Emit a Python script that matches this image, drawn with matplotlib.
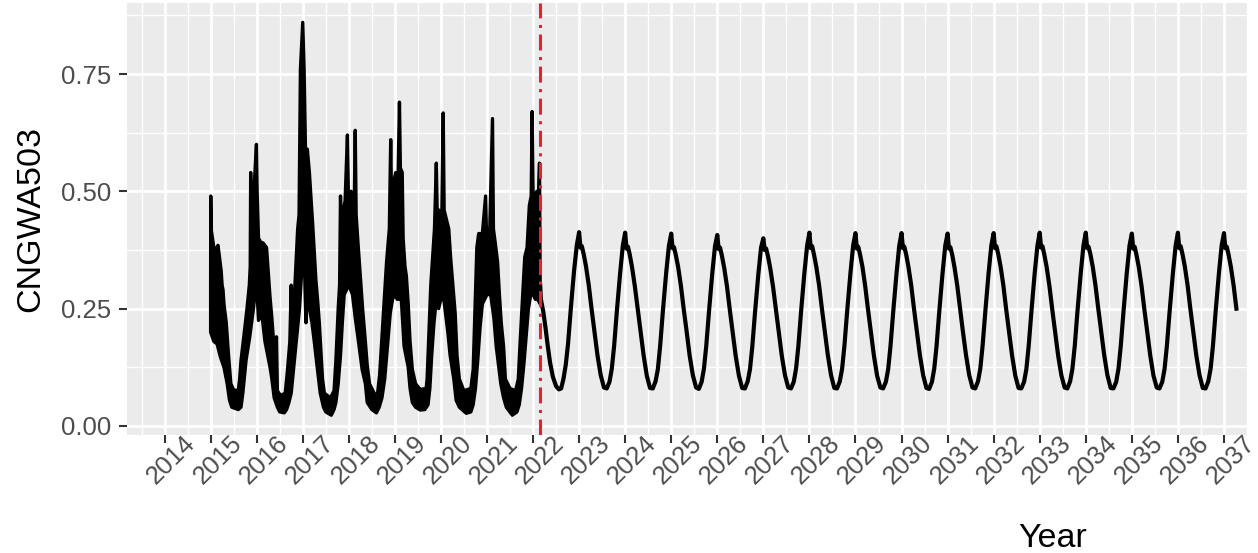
import numpy as np
import matplotlib.pyplot as plt
from matplotlib.transforms import ScaledTranslation

plt.rcParams['font.family'] = ['Liberation Sans', 'DejaVu Sans']
plt.rcParams['lines.scale_dashes'] = False

# observed series, drawn as its black band: upper and lower edge (decimal year, value)
hist_upper = [
    (2015.000, 0.30), (2015.003, 0.49), (2015.012, 0.42), (2015.070, 0.38), (2015.140, 0.38), (2015.160, 0.385),
    (2015.180, 0.37), (2015.230, 0.33), (2015.250, 0.30), (2015.270, 0.29), (2015.290, 0.26), (2015.340, 0.22),
    (2015.390, 0.15), (2015.440, 0.09), (2015.500, 0.077), (2015.600, 0.075), (2015.630, 0.10), (2015.660, 0.14),
    (2015.720, 0.19), (2015.790, 0.25), (2015.840, 0.30), (2015.860, 0.34), (2015.870, 0.54), (2015.885, 0.40),
    (2015.940, 0.50), (2015.995, 0.60), (2016.010, 0.50), (2016.040, 0.40), (2016.100, 0.39), (2016.140, 0.39),
    (2016.215, 0.38), (2016.290, 0.275), (2016.330, 0.23), (2016.360, 0.19), (2016.400, 0.12), (2016.430, 0.19),
    (2016.450, 0.075), (2016.520, 0.065), (2016.620, 0.07), (2016.670, 0.12), (2016.720, 0.18), (2016.750, 0.30),
    (2016.765, 0.22), (2016.820, 0.28), (2016.860, 0.36), (2016.890, 0.42), (2016.920, 0.45), (2016.950, 0.76),
    (2017.000, 0.86), (2017.030, 0.76), (2017.060, 0.59), (2017.100, 0.59), (2017.145, 0.54), (2017.216, 0.43),
    (2017.287, 0.31), (2017.330, 0.26), (2017.360, 0.22), (2017.430, 0.10), (2017.470, 0.07), (2017.600, 0.06),
    (2017.680, 0.075), (2017.720, 0.14), (2017.770, 0.25), (2017.800, 0.30), (2017.820, 0.49), (2017.840, 0.40),
    (2017.880, 0.46), (2017.920, 0.48), (2017.970, 0.62), (2017.990, 0.50), (2018.050, 0.50), (2018.120, 0.48),
    (2018.140, 0.63), (2018.160, 0.45), (2018.200, 0.39), (2018.250, 0.32), (2018.300, 0.25), (2018.360, 0.18),
    (2018.400, 0.13), (2018.450, 0.09), (2018.550, 0.07), (2018.620, 0.065), (2018.670, 0.11), (2018.720, 0.19),
    (2018.770, 0.27), (2018.820, 0.35), (2018.880, 0.42), (2018.910, 0.61), (2018.930, 0.47), (2018.970, 0.52),
    (2019.020, 0.54), (2019.060, 0.48), (2019.100, 0.69), (2019.120, 0.55), (2019.160, 0.54), (2019.180, 0.40),
    (2019.220, 0.34), (2019.250, 0.32), (2019.290, 0.26), (2019.330, 0.18), (2019.380, 0.12), (2019.450, 0.09),
    (2019.550, 0.078), (2019.680, 0.08), (2019.700, 0.10), (2019.740, 0.20), (2019.780, 0.30), (2019.820, 0.36),
    (2019.860, 0.42), (2019.900, 0.56), (2019.920, 0.45), (2019.960, 0.46), (2020.020, 0.45), (2020.050, 0.667),
    (2020.070, 0.46), (2020.120, 0.44), (2020.170, 0.42), (2020.210, 0.36), (2020.260, 0.30), (2020.310, 0.24),
    (2020.350, 0.15), (2020.400, 0.10), (2020.500, 0.075), (2020.650, 0.08), (2020.700, 0.12), (2020.740, 0.25),
    (2020.780, 0.38), (2020.820, 0.41), (2020.900, 0.41), (2020.970, 0.49), (2020.990, 0.41), (2021.060, 0.42),
    (2021.120, 0.655), (2021.140, 0.42), (2021.180, 0.39), (2021.230, 0.35), (2021.270, 0.28), (2021.310, 0.22),
    (2021.360, 0.17), (2021.400, 0.10), (2021.500, 0.08), (2021.620, 0.075), (2021.680, 0.10), (2021.720, 0.18),
    (2021.770, 0.27), (2021.820, 0.36), (2021.870, 0.38), (2021.920, 0.47), (2021.960, 0.49), (2021.980, 0.67),
    (2022.000, 0.50), (2022.040, 0.48), (2022.080, 0.50), (2022.120, 0.50), (2022.140, 0.56), (2022.155, 0.30),
]
hist_lower = [
    (2015.000, 0.20), (2015.070, 0.18), (2015.140, 0.175), (2015.210, 0.148), (2015.290, 0.125), (2015.360, 0.09),
    (2015.410, 0.055), (2015.460, 0.04), (2015.600, 0.035), (2015.660, 0.04), (2015.700, 0.07), (2015.770, 0.14),
    (2015.850, 0.19), (2015.930, 0.25), (2015.960, 0.28), (2016.000, 0.30), (2016.040, 0.225), (2016.110, 0.24),
    (2016.180, 0.18), (2016.290, 0.125), (2016.330, 0.10), (2016.380, 0.06), (2016.450, 0.04), (2016.500, 0.03),
    (2016.600, 0.028), (2016.650, 0.035), (2016.700, 0.05), (2016.750, 0.07), (2016.820, 0.14), (2016.870, 0.19),
    (2016.930, 0.25), (2016.960, 0.30), (2017.000, 0.36), (2017.040, 0.34), (2017.050, 0.29), (2017.070, 0.22),
    (2017.090, 0.28), (2017.145, 0.25), (2017.200, 0.22), (2017.250, 0.18), (2017.320, 0.12), (2017.380, 0.07),
    (2017.450, 0.04), (2017.500, 0.03), (2017.620, 0.023), (2017.680, 0.035), (2017.720, 0.05), (2017.770, 0.09),
    (2017.820, 0.15), (2017.860, 0.22), (2017.900, 0.28), (2017.950, 0.29), (2018.000, 0.30), (2018.080, 0.28),
    (2018.140, 0.23), (2018.210, 0.18), (2018.290, 0.12), (2018.360, 0.09), (2018.400, 0.05), (2018.500, 0.035),
    (2018.600, 0.028), (2018.660, 0.04), (2018.720, 0.06), (2018.780, 0.10), (2018.840, 0.17), (2018.900, 0.24),
    (2018.950, 0.27), (2019.000, 0.28), (2019.050, 0.27), (2019.100, 0.27), (2019.140, 0.27), (2019.200, 0.17),
    (2019.290, 0.125), (2019.330, 0.08), (2019.380, 0.05), (2019.450, 0.04), (2019.550, 0.034), (2019.650, 0.035),
    (2019.720, 0.045), (2019.760, 0.08), (2019.800, 0.15), (2019.850, 0.22), (2019.900, 0.27), (2019.950, 0.25),
    (2020.000, 0.27), (2020.050, 0.28), (2020.100, 0.24), (2020.150, 0.20), (2020.200, 0.15), (2020.280, 0.10),
    (2020.330, 0.055), (2020.400, 0.04), (2020.550, 0.027), (2020.650, 0.03), (2020.700, 0.045), (2020.750, 0.08),
    (2020.800, 0.14), (2020.850, 0.21), (2020.900, 0.26), (2021.000, 0.28), (2021.080, 0.28), (2021.150, 0.23),
    (2021.200, 0.17), (2021.250, 0.13), (2021.300, 0.09), (2021.360, 0.06), (2021.420, 0.04), (2021.550, 0.023),
    (2021.650, 0.03), (2021.700, 0.045), (2021.750, 0.08), (2021.800, 0.13), (2021.850, 0.19), (2021.900, 0.25),
    (2021.950, 0.28), (2022.000, 0.28), (2022.050, 0.27), (2022.100, 0.27), (2022.155, 0.26),
]

# forecast: first partial season after the cut
fc_2022_t = [2022.155, 2022.17, 2022.22, 2022.27, 2022.32, 2022.37, 2022.43, 2022.50, 2022.56,
             2022.61, 2022.66, 2022.71, 2022.76, 2022.82, 2022.89, 2022.95]
fc_2022_v = [0.30, 0.27, 0.245, 0.21, 0.17, 0.135, 0.105, 0.085, 0.078,
             0.08, 0.10, 0.13, 0.175, 0.25, 0.33, 0.385]

# forecast: one row per year, values at these fractions of the year
fc_phase = [0.00, 0.03, 0.06, 0.10, 0.15, 0.21, 0.27, 0.33, 0.40, 0.47, 0.54, 0.60, 0.66, 0.71, 0.76, 0.82, 0.89, 0.95]
fc_years = [2023, 2024, 2025, 2026, 2027, 2028, 2029, 2030, 2031, 2032, 2033, 2034, 2035, 2036, 2037]
fc_rows = [
    [0.413, 0.380, 0.383, 0.366, 0.340, 0.300, 0.250, 0.203, 0.150, 0.108, 0.082, 0.080, 0.094, 0.122, 0.170, 0.245, 0.325, 0.385],
    [0.412, 0.378, 0.382, 0.365, 0.338, 0.298, 0.251, 0.204, 0.151, 0.107, 0.081, 0.080, 0.095, 0.121, 0.171, 0.246, 0.326, 0.384],
    [0.410, 0.379, 0.381, 0.364, 0.339, 0.299, 0.250, 0.205, 0.150, 0.108, 0.082, 0.079, 0.094, 0.122, 0.170, 0.244, 0.324, 0.383],
    [0.407, 0.377, 0.380, 0.363, 0.337, 0.298, 0.249, 0.203, 0.149, 0.107, 0.081, 0.080, 0.095, 0.121, 0.169, 0.243, 0.322, 0.380],
    [0.400, 0.375, 0.378, 0.362, 0.336, 0.297, 0.250, 0.202, 0.150, 0.108, 0.082, 0.080, 0.094, 0.122, 0.170, 0.245, 0.325, 0.384],
    [0.412, 0.379, 0.383, 0.365, 0.339, 0.300, 0.251, 0.204, 0.151, 0.108, 0.081, 0.080, 0.095, 0.122, 0.171, 0.245, 0.325, 0.385],
    [0.411, 0.378, 0.382, 0.365, 0.340, 0.299, 0.250, 0.203, 0.150, 0.107, 0.082, 0.080, 0.094, 0.121, 0.170, 0.244, 0.324, 0.384],
    [0.411, 0.379, 0.382, 0.366, 0.339, 0.300, 0.250, 0.204, 0.150, 0.108, 0.081, 0.079, 0.094, 0.122, 0.170, 0.245, 0.325, 0.385],
    [0.410, 0.378, 0.381, 0.365, 0.338, 0.299, 0.251, 0.203, 0.151, 0.108, 0.082, 0.080, 0.095, 0.122, 0.171, 0.245, 0.326, 0.385],
    [0.411, 0.379, 0.383, 0.366, 0.340, 0.300, 0.250, 0.204, 0.150, 0.107, 0.081, 0.080, 0.094, 0.121, 0.170, 0.244, 0.325, 0.384],
    [0.412, 0.380, 0.383, 0.365, 0.339, 0.299, 0.250, 0.203, 0.150, 0.108, 0.082, 0.080, 0.095, 0.122, 0.170, 0.245, 0.325, 0.385],
    [0.412, 0.379, 0.382, 0.366, 0.340, 0.300, 0.251, 0.204, 0.151, 0.108, 0.081, 0.080, 0.094, 0.122, 0.171, 0.245, 0.326, 0.385],
    [0.410, 0.378, 0.382, 0.365, 0.339, 0.299, 0.250, 0.203, 0.150, 0.107, 0.082, 0.080, 0.094, 0.121, 0.170, 0.244, 0.324, 0.384],
    [0.412, 0.379, 0.383, 0.366, 0.340, 0.300, 0.250, 0.204, 0.150, 0.108, 0.081, 0.080, 0.095, 0.122, 0.170, 0.245, 0.325, 0.385],
    [0.411, 0.379, 0.382, 0.365, 0.339, 0.299, 0.250],
]

cut_year = 2022.15
year_ticks = list(range(2014, 2038))
y_ticks = [0.00, 0.25, 0.50, 0.75]
y_tick_labels = ['0.00', '0.25', '0.50', '0.75']

W, H = 1258, 553
fig = plt.figure(figsize=(W / 100, H / 100), dpi=100)
ax = fig.add_axes([127 / W, 1 - 435 / H, 1120 / W, 432 / H])
ax.set_facecolor('#EBEBEB')
for s in ax.spines.values():
    s.set_visible(False)

ax.set_xlim(2013.185, 2037.2)
ax.set_ylim(-0.0192, 0.9013)

ax.set_xticks(year_ticks)
ax.set_xticks([y + 0.5 for y in range(2013, 2038)], minor=True)
ax.set_yticks(y_ticks)
ax.set_yticks([0.125, 0.375, 0.625, 0.875], minor=True)
ax.grid(which='major', color='white', lw=2.0)
ax.grid(which='minor', color='white', lw=1.0)
ax.set_axisbelow(True)

ax.tick_params(which='minor', length=0)
ax.tick_params(which='major', length=5.8, width=1.5, color='#333333',
               labelcolor='#4D4D4D', labelsize=18.5)
ax.tick_params(axis='y', pad=5.5)
ax.tick_params(axis='x', pad=0)
ax.set_yticklabels(y_tick_labels)
ax.set_xticklabels([str(y) for y in year_ticks], rotation=45, ha='center', va='top')
shift = ScaledTranslation(7 / 100, 12 / 100, fig.dpi_scale_trans)
for lab in ax.get_xticklabels():
    lab.set_transform(lab.get_transform() + shift)

# observed band
up_t, up_v = zip(*hist_upper)
lo_t, lo_v = zip(*hist_lower)
poly_t = np.r_[up_t, lo_t[::-1]]
poly_v = np.r_[up_v, lo_v[::-1]]
ax.fill(poly_t, poly_v, facecolor='black', edgecolor='black', lw=2.4, joinstyle='round')

# forecast line
fc_t = list(fc_2022_t)
fc_v = list(fc_2022_v)
for yr, row in zip(fc_years, fc_rows):
    fc_t += [yr + p for p in fc_phase[:len(row)]]
    fc_v += row
ax.plot(fc_t, fc_v, color='black', lw=3.0, solid_joinstyle='round')

ax.axvline(cut_year, color='#E3232B', lw=2.2, linestyle=(0, (11.5, 4.7, 2.2, 4.7)))

fig.text(30.5 / W, 1 - 219 / H, 'CNGWA503', rotation=90, ha='center', va='center', fontsize=24.5)
fig.text(1053 / W, 1 - 547 / H, 'Year', ha='center', va='baseline', fontsize=24.5)

fig.savefig('out.png', dpi=100)
